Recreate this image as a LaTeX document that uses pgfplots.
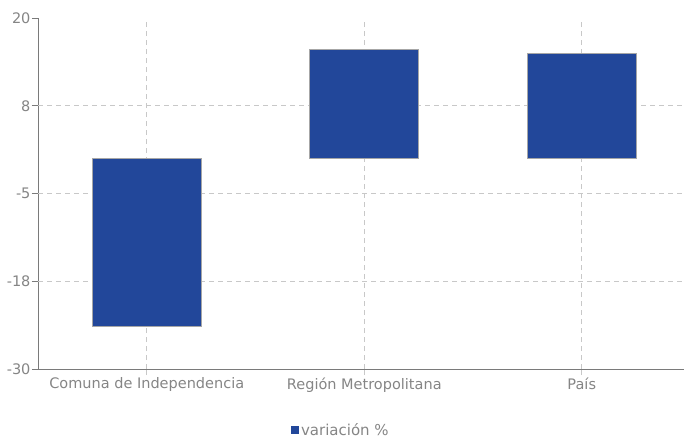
\documentclass[border=0pt]{standalone}
\usepackage{pgfplots}
\pgfplotsset{compat=1.18}
\usepackage{fontspec}
\setmainfont{DejaVu Sans}
\definecolor{barblue}{HTML}{22479A}
\definecolor{txtgray}{HTML}{858585}
\definecolor{axgray}{HTML}{7A7A7A}
\definecolor{gridgray}{HTML}{C8C8C8}
\begin{document}
\begin{tikzpicture}[x=1pt,y=1pt]
\useasboundingbox (0,0) rectangle (684,440);
\begin{axis}[
  at={(38pt,71pt)}, anchor=south west,
  scale only axis, width=646pt, height=351pt,
  xmin=-0.5, xmax=2.47, ymin=-30, ymax=20,
  axis x line=bottom, axis y line=left,
  axis line style={-, axgray, line width=0.8pt},
  xtick={0,1,2},
  xticklabels={Comuna de Independencia, Región Metropolitana, País},
  ytick={-30,-17.5,-5,7.5,20},
  yticklabels={-30,-18,-5,8,20},
  extra y ticks={-17.5,-5,7.5},
  extra y tick labels={},
  extra y tick style={grid=major},
  xmajorgrids=true,
  grid style={gridgray, line width=0.8pt, dash pattern=on 5pt off 4pt},
  major tick length=6pt,
  ytick align=outside,
  xtick align=center,
  xtick style={gridgray, line width=0.8pt},
  ytick style={axgray, line width=0.8pt},
  tick label style={font=\fontsize{14.5}{16}\selectfont, text=txtgray},
  yticklabel style={xshift=2pt},
  xticklabel style={yshift=1pt},
  /pgf/number format/assume math mode=true,
  ybar, bar width=109pt, bar shift=0pt,
  legend style={at={(0.469,-0.174)}, anchor=center, draw=none, fill=none,
    font=\fontsize{15}{17}\selectfont, text=txtgray,
    legend cell align=left},
  legend image code/.code={\fill[barblue] (1pt,-3.5pt) rectangle (8pt,3.5pt);},
]
\addplot[fill=barblue, draw=gray!70, line width=0.8pt] coordinates {(0,-23.9) (1,15.5) (2,15.0)};
\addlegendentry{variación \%}
\end{axis}
\end{tikzpicture}
\end{document}
